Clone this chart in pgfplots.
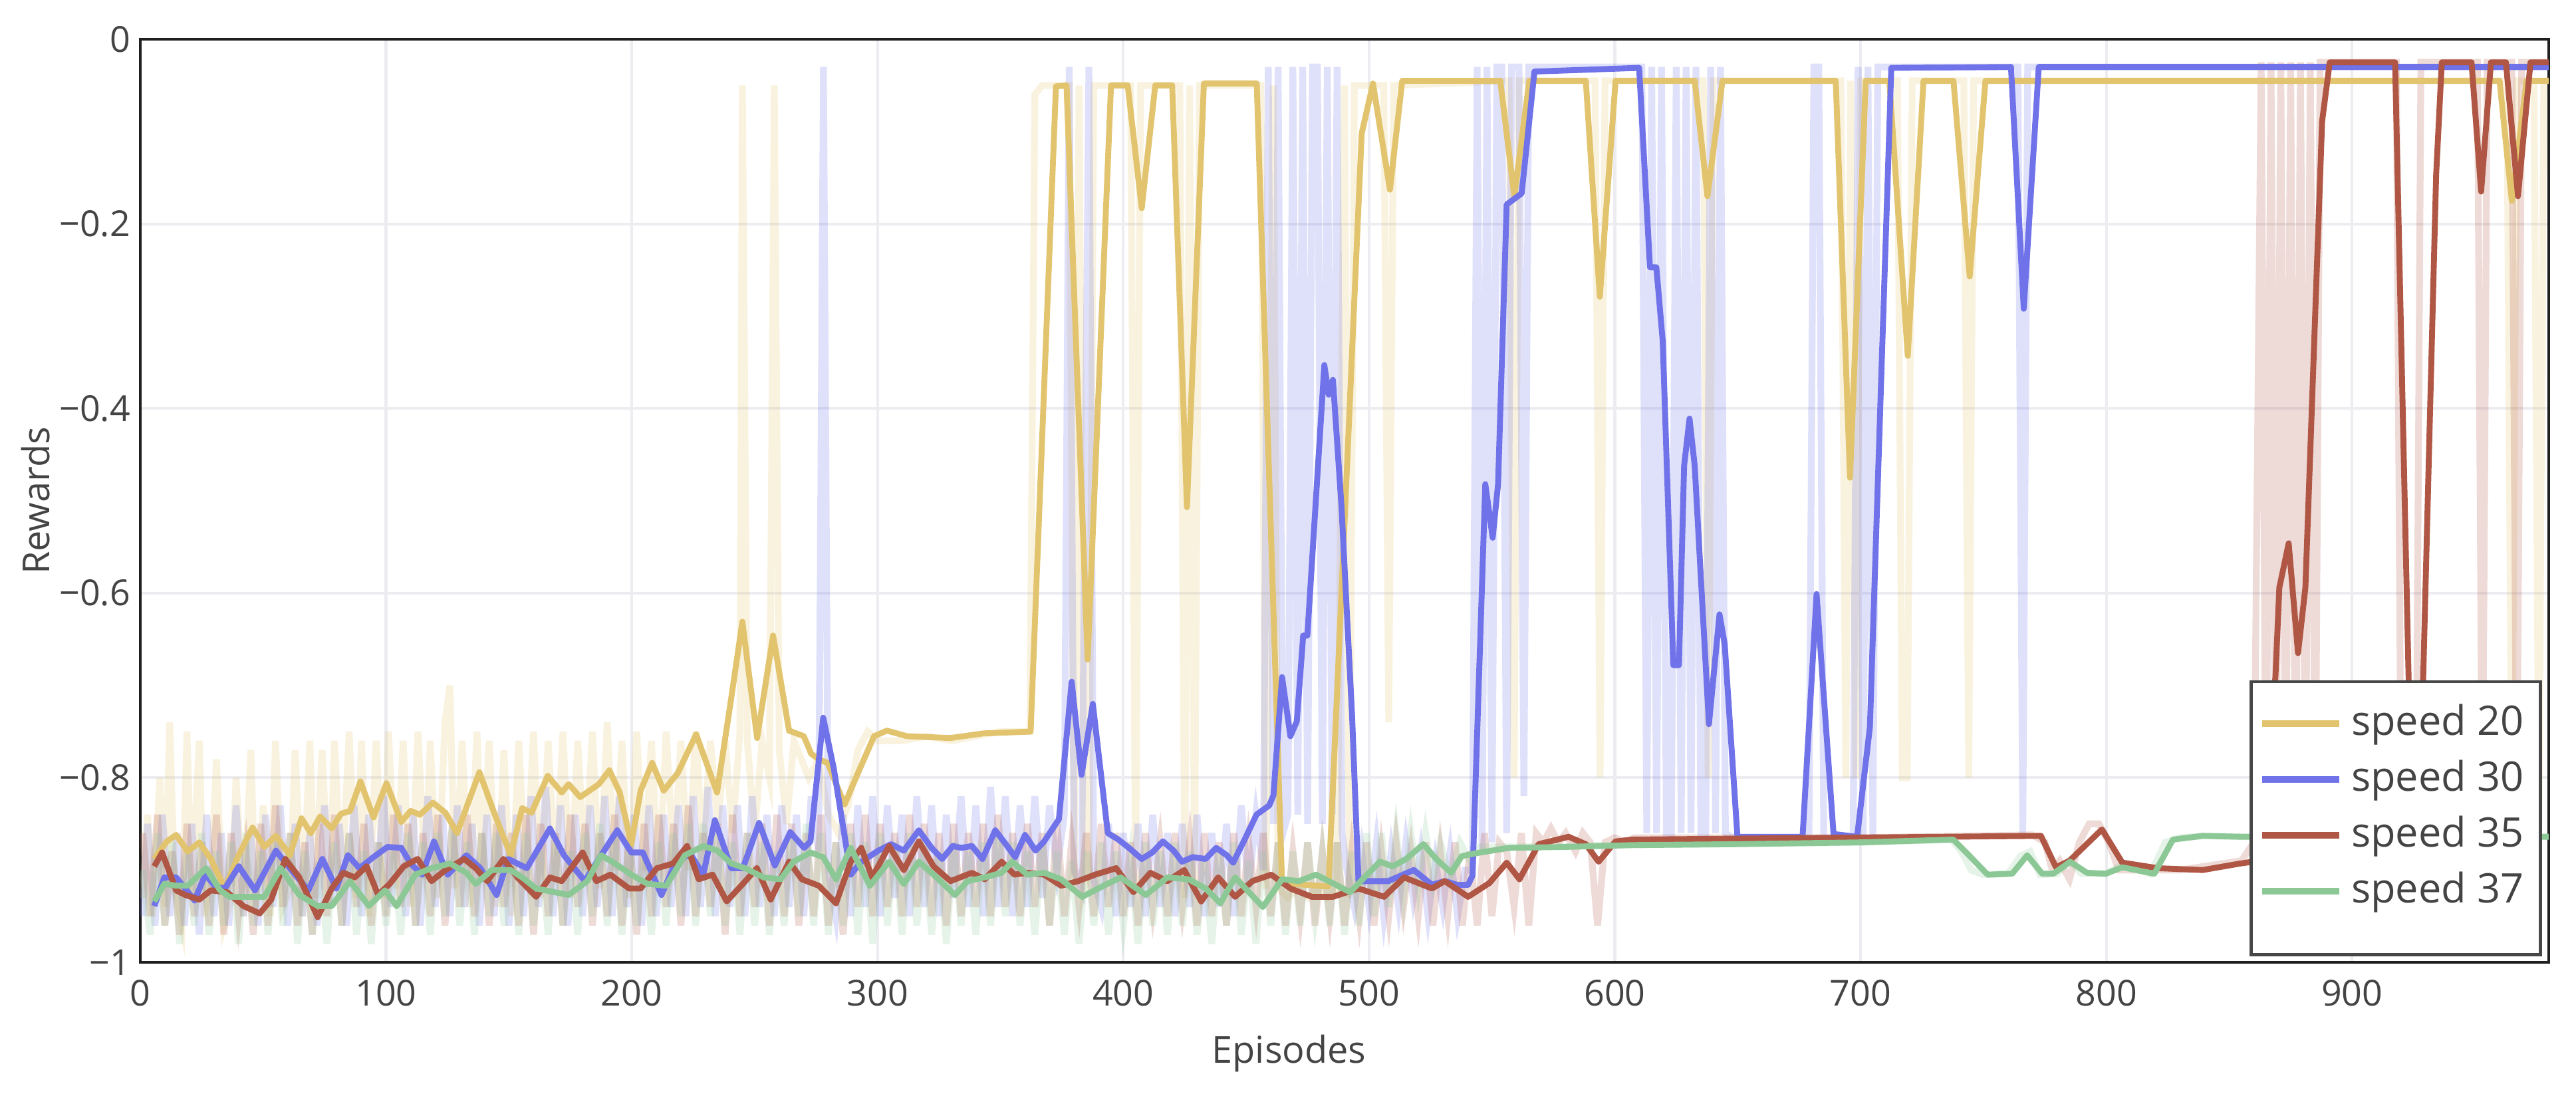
\documentclass[border=0pt]{standalone}
\usepackage{fontspec}
\setmainfont{Open Sans}
\usepackage{pgfplots}
\pgfplotsset{compat=1.18}
\definecolor{sA}{RGB}{226,196,110}
\definecolor{sB}{RGB}{111,114,232}
\definecolor{sC}{RGB}{176,86,68}
\definecolor{sD}{RGB}{140,200,150}
\definecolor{txt}{RGB}{68,68,68}
\definecolor{gridc}{RGB}{236,236,241}

\begin{document}
\begin{tikzpicture}
\begin{axis}[
  name=ax,
  scale only axis, width=18.70cm, height=7.166cm,
  xmin=0, xmax=980, ymin=-1, ymax=0,
  xtick={0,100,...,900}, xticklabels={0,100,200,300,400,500,600,700,800,900},
  ytick={-1,-0.8,-0.6,-0.4,-0.2,0}, yticklabels={−1,−0.8,−0.6,−0.4,−0.2,0},
  major tick length=0pt,
  grid=major, major grid style={gridc, line width=0.6pt},
  axis line style={black!88, line width=0.6pt},
  tick label style={font=\fontsize{7.9}{9}\selectfont, text=txt},
  xticklabel style={anchor=base, yshift=-0.34cm, inner sep=0pt},
  yticklabel style={anchor=east, xshift=-0.07cm, inner sep=0pt},
  xlabel={Episodes},
  xlabel style={font=\fontsize{8.2}{10}\selectfont, text=txt, at={(rel axis cs:0.477,0)}, anchor=base, yshift=-0.78cm, inner sep=0pt},
  legend style={at={(rel axis cs:0.9972,0.0065)}, anchor=south east, draw=black!72, line width=0.7pt, fill=white,
    font=\fontsize{9}{11}\selectfont, text=txt, inner xsep=0.06cm, inner ysep=0.108cm, row sep=0pt,
    cells={anchor=west, inner xsep=0.06cm, inner ysep=0.07cm}},
  legend image code/.code={\draw[#1, line width=1.4pt] (0cm,0cm) -- (0.6cm,0cm);},
]
% raw episode rewards (faint)
\addplot[sA, draw opacity=0.22, line width=1.5pt, forget plot] coordinates {
(1,-0.93) (3,-0.84) (5,-0.95) (8,-0.80) (10,-0.94) (12,-0.74) (14,-0.92) (17,-0.96) (19,-0.75) (21,-0.93) (24,-0.76) (26,-0.95) (29,-0.90) (31,-0.78) (34,-0.96) (37,-0.93) (39,-0.80) (42,-0.95) (45,-0.77) (47,-0.94) (50,-0.83) (53,-0.95) (55,-0.76) (58,-0.94) (61,-0.92) (63,-0.77) (66,-0.95) (69,-0.76) (71,-0.93) (74,-0.77) (77,-0.94) (79,-0.76) (82,-0.92) (85,-0.75) (88,-0.93) (90,-0.76) (93,-0.95) (96,-0.76) (99,-0.93) (101,-0.75) (104,-0.92) (107,-0.76) (110,-0.94) (113,-0.75) (116,-0.91) (118,-0.76) (121,-0.93) (124,-0.74) (126,-0.70) (128,-0.92) (131,-0.76) (134,-0.94) (137,-0.75) (139,-0.91) (142,-0.76) (145,-0.94) (148,-0.77) (151,-0.95) (154,-0.76) (157,-0.92) (160,-0.75) (163,-0.93) (166,-0.76) (169,-0.91) (172,-0.75) (175,-0.93) (178,-0.76) (181,-0.90) (184,-0.75) (187,-0.92) (190,-0.74) (193,-0.90) (196,-0.76) (199,-0.93) (202,-0.75) (205,-0.90) (208,-0.76) (211,-0.92) (214,-0.75) (217,-0.89) (220,-0.76) (223,-0.90) (226,-0.75) (229,-0.88) (232,-0.76) (235,-0.85) (238,-0.76) (241,-0.86) (244,-0.75) (245,-0.05) (247,-0.76) (250,-0.86) (253,-0.76) (256,-0.80) (258,-0.05) (260,-0.77) (263,-0.85) (266,-0.76) (269,-0.78) (272,-0.80) (276,-0.78) (280,-0.84) (284,-0.86) (288,-0.83) (292,-0.77) (296,-0.75) (300,-0.76) (310,-0.76) (320,-0.755) (330,-0.76) (340,-0.755) (350,-0.75) (362,-0.75) (364,-0.06) (367,-0.05) (378,-0.05) (380,-0.91) (382,-0.05) (384,-0.92) (386,-0.90) (388,-0.05) (403,-0.05) (405,-0.92) (407,-0.05) (423,-0.05) (425,-0.93) (427,-0.05) (429,-0.92) (431,-0.05) (456,-0.05) (458,-0.92) (461,-0.05) (463,-0.92) (467,-0.93) (471,-0.92) (475,-0.93) (479,-0.92) (483,-0.93) (487,-0.92) (490,-0.05) (492,-0.93) (494,-0.05) (506,-0.05) (508,-0.74) (510,-0.05) (557,-0.045) (559,-0.80) (561,-0.045) (592,-0.045) (594,-0.80) (596,-0.045) (636,-0.045) (638,-0.80) (640,-0.045) (692,-0.045) (694,-0.80) (696,-0.045) (698,-0.80) (700,-0.045) (715,-0.045) (717,-0.80) (719,-0.80) (721,-0.045) (742,-0.045) (744,-0.80) (746,-0.045) (963,-0.045) (965,-0.85) (967,-0.045) (974,-0.045) (976,-0.85) (978,-0.045) (980,-0.045)};
\addplot[sB, draw opacity=0.22, line width=1.5pt, forget plot] coordinates {
(1,-0.95) (3,-0.85) (6,-0.96) (9,-0.84) (12,-0.95) (15,-0.86) (18,-0.96) (21,-0.85) (24,-0.97) (27,-0.84) (30,-0.95) (33,-0.86) (36,-0.96) (39,-0.83) (42,-0.95) (45,-0.86) (48,-0.96) (51,-0.84) (54,-0.94) (57,-0.83) (60,-0.96) (63,-0.85) (66,-0.95) (69,-0.86) (72,-0.96) (75,-0.83) (78,-0.94) (81,-0.85) (84,-0.96) (87,-0.83) (90,-0.95) (93,-0.84) (96,-0.93) (99,-0.82) (102,-0.94) (105,-0.83) (108,-0.95) (111,-0.84) (114,-0.96) (117,-0.82) (120,-0.94) (123,-0.84) (126,-0.95) (129,-0.83) (132,-0.94) (135,-0.85) (138,-0.96) (141,-0.84) (144,-0.95) (147,-0.83) (150,-0.96) (153,-0.84) (156,-0.95) (159,-0.82) (162,-0.94) (165,-0.81) (168,-0.95) (171,-0.83) (174,-0.96) (177,-0.84) (180,-0.95) (183,-0.83) (186,-0.94) (189,-0.82) (192,-0.95) (195,-0.82) (198,-0.94) (201,-0.84) (204,-0.96) (207,-0.83) (210,-0.95) (213,-0.84) (216,-0.94) (219,-0.83) (222,-0.95) (225,-0.82) (228,-0.94) (231,-0.81) (234,-0.95) (237,-0.83) (240,-0.94) (243,-0.83) (246,-0.95) (249,-0.82) (252,-0.94) (255,-0.84) (258,-0.95) (261,-0.83) (264,-0.94) (267,-0.84) (270,-0.95) (273,-0.82) (276,-0.88) (278,-0.03) (280,-0.90) (283,-0.95) (286,-0.84) (289,-0.95) (292,-0.83) (295,-0.94) (298,-0.82) (301,-0.95) (304,-0.83) (307,-0.93) (310,-0.84) (313,-0.95) (316,-0.82) (319,-0.94) (322,-0.83) (325,-0.95) (328,-0.84) (331,-0.93) (334,-0.82) (337,-0.94) (340,-0.83) (343,-0.95) (346,-0.81) (349,-0.94) (352,-0.82) (355,-0.95) (358,-0.83) (361,-0.94) (364,-0.82) (367,-0.93) (370,-0.83) (373,-0.90) (376,-0.84) (378,-0.03) (380,-0.90) (383,-0.92) (386,-0.03) (388,-0.91) (391,-0.94) (394,-0.85) (397,-0.95) (400,-0.86) (403,-0.94) (406,-0.85) (409,-0.95) (412,-0.84) (415,-0.94) (418,-0.86) (421,-0.95) (424,-0.85) (427,-0.94) (430,-0.84) (433,-0.95) (436,-0.86) (439,-0.94) (442,-0.85) (445,-0.95) (448,-0.83) (451,-0.92) (454,-0.84) (457,-0.90) (459,-0.03) (461,-0.85) (463,-0.03) (465,-0.86) (467,-0.84) (469,-0.03) (471,-0.84) (473,-0.03) (475,-0.85) (477,-0.03) (479,-0.03) (481,-0.85) (483,-0.03) (485,-0.84) (487,-0.03) (489,-0.86) (491,-0.90) (494,-0.94) (497,-0.88) (500,-0.94) (503,-0.87) (506,-0.95) (509,-0.88) (512,-0.94) (515,-0.87) (518,-0.93) (521,-0.88) (524,-0.95) (527,-0.89) (530,-0.94) (533,-0.88) (536,-0.95) (539,-0.90) (542,-0.90) (544,-0.03) (546,-0.88) (548,-0.03) (550,-0.87) (552,-0.03) (554,-0.03) (556,-0.86) (558,-0.03) (561,-0.03) (563,-0.82) (565,-0.03) (611,-0.03) (613,-0.86) (615,-0.03) (617,-0.86) (619,-0.03) (621,-0.86) (623,-0.86) (625,-0.03) (627,-0.86) (629,-0.03) (631,-0.86) (633,-0.03) (635,-0.86) (637,-0.86) (639,-0.03) (641,-0.86) (643,-0.03) (645,-0.86) (648,-0.865) (679,-0.865) (681,-0.03) (683,-0.03) (685,-0.865) (697,-0.865) (699,-0.03) (701,-0.865) (703,-0.03) (705,-0.865) (707,-0.03) (764,-0.03) (766,-0.86) (768,-0.03) (980,-0.03)};
\addplot[sC, draw opacity=0.22, line width=1.5pt, forget plot] coordinates {
(1,-0.86) (4,-0.95) (7,-0.84) (10,-0.96) (13,-0.88) (16,-0.97) (19,-0.85) (22,-0.95) (25,-0.87) (28,-0.96) (31,-0.84) (34,-0.97) (37,-0.86) (40,-0.95) (43,-0.88) (46,-0.97) (49,-0.85) (52,-0.96) (55,-0.83) (58,-0.94) (61,-0.86) (64,-0.96) (67,-0.87) (70,-0.97) (73,-0.85) (76,-0.95) (79,-0.84) (82,-0.96) (85,-0.86) (88,-0.94) (91,-0.85) (94,-0.96) (97,-0.87) (100,-0.95) (103,-0.84) (106,-0.94) (109,-0.85) (112,-0.96) (115,-0.86) (118,-0.95) (121,-0.84) (124,-0.96) (127,-0.85) (130,-0.94) (133,-0.84) (136,-0.95) (139,-0.86) (142,-0.96) (145,-0.85) (148,-0.94) (151,-0.86) (154,-0.96) (157,-0.84) (160,-0.97) (163,-0.85) (166,-0.95) (169,-0.86) (172,-0.96) (175,-0.84) (178,-0.94) (181,-0.85) (184,-0.96) (187,-0.86) (190,-0.95) (193,-0.84) (196,-0.96) (199,-0.86) (202,-0.97) (205,-0.85) (208,-0.95) (211,-0.84) (214,-0.94) (217,-0.85) (220,-0.96) (223,-0.83) (226,-0.95) (229,-0.86) (232,-0.94) (235,-0.85) (238,-0.97) (241,-0.84) (244,-0.95) (247,-0.86) (250,-0.94) (253,-0.85) (256,-0.96) (259,-0.84) (262,-0.95) (265,-0.85) (268,-0.96) (271,-0.86) (274,-0.95) (277,-0.84) (280,-0.96) (283,-0.87) (286,-0.97) (289,-0.85) (292,-0.94) (295,-0.84) (298,-0.95) (301,-0.85) (304,-0.94) (307,-0.86) (310,-0.95) (313,-0.84) (316,-0.94) (319,-0.85) (322,-0.95) (325,-0.86) (328,-0.96) (331,-0.85) (334,-0.95) (337,-0.86) (340,-0.94) (343,-0.85) (346,-0.95) (349,-0.84) (352,-0.94) (355,-0.86) (358,-0.95) (361,-0.85) (364,-0.94) (367,-0.86) (370,-0.96) (373,-0.85) (376,-0.95) (379,-0.87) (382,-0.94) (385,-0.86) (388,-0.95) (391,-0.85) (394,-0.94) (397,-0.86) (400,-0.95) (403,-0.87) (406,-0.96) (409,-0.86) (412,-0.94) (415,-0.87) (418,-0.95) (421,-0.86) (424,-0.94) (427,-0.87) (430,-0.96) (433,-0.86) (436,-0.95) (439,-0.87) (442,-0.96) (445,-0.86) (448,-0.95) (451,-0.87) (454,-0.94) (457,-0.86) (460,-0.95) (463,-0.87) (466,-0.96) (469,-0.88) (472,-0.95) (475,-0.87) (478,-0.96) (481,-0.88) (484,-0.95) (487,-0.87) (490,-0.96) (493,-0.88) (496,-0.95) (499,-0.87) (502,-0.96) (505,-0.88) (508,-0.95) (511,-0.87) (514,-0.94) (517,-0.88) (520,-0.95) (523,-0.87) (526,-0.96) (529,-0.88) (532,-0.95) (535,-0.87) (538,-0.96) (541,-0.88) (544,-0.96) (547,-0.86) (550,-0.95) (553,-0.87) (556,-0.88) (559,-0.94) (562,-0.86) (565,-0.96) (568,-0.86) (571,-0.87) (574,-0.855) (577,-0.87) (580,-0.86) (584,-0.88) (587,-0.86) (590,-0.87) (593,-0.96) (596,-0.87) (600,-0.865) (604,-0.87) (608,-0.865) (700,-0.865) (770,-0.862) (775,-0.87) (778,-0.90) (781,-0.89) (785,-0.91) (789,-0.87) (793,-0.85) (797,-0.85) (801,-0.87) (805,-0.90) (810,-0.90) (830,-0.90) (855,-0.89) (860,-0.87) (863,-0.025) (865,-0.87) (867,-0.025) (869,-0.87) (871,-0.025) (873,-0.87) (875,-0.025) (877,-0.87) (879,-0.025) (881,-0.87) (883,-0.025) (885,-0.87) (887,-0.025) (918,-0.025) (920,-0.87) (922,-0.87) (924,-0.87) (926,-0.87) (928,-0.025) (951,-0.025) (953,-0.87) (955,-0.025) (965,-0.025) (967,-0.87) (969,-0.025) (980,-0.025)};
\addplot[sD, draw opacity=0.22, line width=1.5pt, forget plot] coordinates {
(1,-0.90) (4,-0.97) (7,-0.86) (10,-0.96) (13,-0.87) (16,-0.98) (19,-0.88) (22,-0.96) (25,-0.86) (28,-0.97) (31,-0.88) (34,-0.96) (37,-0.87) (40,-0.98) (43,-0.86) (46,-0.96) (49,-0.88) (52,-0.97) (55,-0.87) (58,-0.96) (61,-0.86) (64,-0.98) (67,-0.88) (70,-0.97) (73,-0.89) (76,-0.98) (79,-0.87) (82,-0.96) (85,-0.86) (88,-0.97) (91,-0.88) (94,-0.98) (97,-0.87) (100,-0.96) (103,-0.88) (106,-0.97) (109,-0.86) (112,-0.96) (115,-0.87) (118,-0.97) (121,-0.86) (124,-0.95) (127,-0.85) (130,-0.96) (133,-0.87) (136,-0.97) (139,-0.86) (142,-0.95) (145,-0.86) (148,-0.96) (151,-0.87) (154,-0.97) (157,-0.86) (160,-0.96) (163,-0.88) (166,-0.97) (169,-0.87) (172,-0.96) (175,-0.88) (178,-0.97) (181,-0.86) (184,-0.95) (187,-0.85) (190,-0.96) (193,-0.86) (196,-0.97) (199,-0.87) (202,-0.96) (205,-0.88) (208,-0.97) (211,-0.87) (214,-0.96) (217,-0.86) (220,-0.95) (223,-0.85) (226,-0.96) (229,-0.85) (232,-0.95) (235,-0.86) (238,-0.96) (241,-0.87) (244,-0.97) (247,-0.86) (250,-0.96) (253,-0.87) (256,-0.97) (259,-0.88) (262,-0.96) (265,-0.86) (268,-0.95) (271,-0.85) (274,-0.96) (277,-0.86) (280,-0.97) (283,-0.87) (286,-0.96) (289,-0.86) (292,-0.97) (295,-0.87) (298,-0.98) (301,-0.86) (304,-0.96) (307,-0.87) (310,-0.97) (313,-0.86) (316,-0.96) (319,-0.87) (322,-0.97) (325,-0.88) (328,-0.98) (331,-0.87) (334,-0.96) (337,-0.88) (340,-0.97) (343,-0.87) (346,-0.96) (349,-0.86) (352,-0.95) (355,-0.87) (358,-0.96) (361,-0.88) (364,-0.97) (367,-0.87) (370,-0.96) (373,-0.88) (376,-0.97) (379,-0.89) (382,-0.98) (385,-0.88) (388,-0.96) (391,-0.87) (394,-0.97) (397,-0.88) (400,-0.96) (403,-0.89) (406,-0.98) (409,-0.87) (412,-0.96) (415,-0.88) (418,-0.97) (421,-0.87) (424,-0.96) (427,-0.88) (430,-0.97) (433,-0.89) (436,-0.98) (439,-0.88) (442,-0.96) (445,-0.87) (448,-0.97) (451,-0.89) (454,-0.98) (457,-0.88) (460,-0.96) (463,-0.87) (466,-0.97) (469,-0.88) (472,-0.96) (475,-0.87) (478,-0.95) (481,-0.88) (484,-0.96) (487,-0.87) (490,-0.97) (493,-0.88) (496,-0.96) (499,-0.86) (502,-0.95) (505,-0.86) (508,-0.94) (511,-0.86) (514,-0.93) (517,-0.86) (520,-0.92) (523,-0.86) (526,-0.91) (529,-0.87) (533,-0.91) (537,-0.87) (541,-0.89) (545,-0.875) (560,-0.875) (600,-0.873) (700,-0.870) (737,-0.867) (741,-0.88) (745,-0.90) (750,-0.905) (760,-0.904) (765,-0.885) (769,-0.88) (773,-0.905) (780,-0.904) (785,-0.89) (790,-0.904) (800,-0.904) (806,-0.895) (818,-0.904) (824,-0.87) (830,-0.865) (840,-0.863) (860,-0.864) (980,-0.864)};
% smoothed rewards
\addplot[sA, line width=1.3pt, line join=round] coordinates {
(5.7,-0.888) (10.8,-0.869) (14.6,-0.862) (19.3,-0.880) (24.0,-0.870) (28.7,-0.888) (34.4,-0.920) (40,-0.884) (45.7,-0.854) (50.5,-0.875) (55.2,-0.863) (60.9,-0.884) (65.6,-0.844) (69.4,-0.860) (73.2,-0.842) (77.9,-0.855) (81.7,-0.839) (85.4,-0.836) (89.6,-0.804) (94.9,-0.843) (100.2,-0.806) (106.2,-0.848) (110,-0.836) (113.8,-0.840) (119.1,-0.827) (124.2,-0.838) (128.9,-0.860) (138,-0.794) (144,-0.838) (150.7,-0.884) (155.4,-0.833) (159.2,-0.838) (165.8,-0.798) (171.5,-0.816) (174.3,-0.807) (179,-0.821) (186.6,-0.807) (190.9,-0.792) (195.1,-0.816) (199.8,-0.872) (203.6,-0.814) (208.3,-0.784) (213,-0.814) (218.7,-0.795) (226.2,-0.753) (234.7,-0.816) (240.4,-0.715) (245,-0.631) (251,-0.757) (257.5,-0.646) (264,-0.749) (270,-0.755) (273,-0.774) (276,-0.78) (279.7,-0.784) (286.6,-0.829) (291.7,-0.797) (298.6,-0.755) (303.8,-0.749) (312,-0.755) (329.6,-0.757) (343,-0.752) (362.3,-0.750) (372.6,-0.051) (376.9,-0.05) (385.5,-0.672) (395,-0.05) (401.8,-0.05) (407.5,-0.183) (413,-0.05) (419.9,-0.05) (425.9,-0.507) (432.8,-0.048) (454.3,-0.048) (464.6,-0.914) (483.5,-0.918) (497,-0.102) (501.6,-0.048) (508.5,-0.163) (513.5,-0.045) (553.4,-0.045) (559.1,-0.17) (565.2,-0.045) (588.2,-0.045) (593.9,-0.279) (600.3,-0.045) (632.5,-0.045) (637.7,-0.17) (643.8,-0.045) (689.9,-0.045) (695.7,-0.475) (702.1,-0.045) (711.7,-0.045) (719.2,-0.343) (725.6,-0.045) (737.8,-0.045) (744.4,-0.257) (750.8,-0.045) (960,-0.045) (965,-0.175) (971,-0.045) (980,-0.045)};
\addlegendentry{speed 20}
\addplot[sB, line width=1.3pt, line join=round] coordinates {
(5.7,-0.939) (9.8,-0.908) (14.6,-0.908) (18.3,-0.920) (22.1,-0.933) (26.5,-0.905) (30.6,-0.918) (34.4,-0.920) (40.1,-0.896) (46.7,-0.922) (55.2,-0.879) (60.9,-0.898) (68.4,-0.922) (74.1,-0.888) (79.8,-0.920) (84.5,-0.884) (89.2,-0.898) (94.9,-0.886) (100.6,-0.875) (106.2,-0.876) (110,-0.893) (114.7,-0.905) (119.5,-0.869) (125.1,-0.905) (132.7,-0.884) (138.4,-0.898) (145,-0.927) (149.7,-0.888) (157.3,-0.898) (166.7,-0.855) (172.4,-0.884) (180.9,-0.912) (186.6,-0.888) (194.1,-0.857) (199.8,-0.881) (204.5,-0.881) (212.1,-0.927) (216.8,-0.898) (223.4,-0.881) (229.1,-0.905) (233.8,-0.846) (240.5,-0.898) (245.2,-0.898) (251.8,-0.849) (258.2,-0.895) (264.5,-0.859) (270.1,-0.876) (272.7,-0.869) (277.9,-0.735) (282.2,-0.790) (289.1,-0.905) (293.4,-0.891) (300.3,-0.879) (305.5,-0.872) (310.7,-0.879) (316.8,-0.857) (322,-0.876) (326.3,-0.888) (330.6,-0.874) (334.1,-0.876) (338.4,-0.874) (342.7,-0.888) (347.9,-0.857) (352.2,-0.872) (356,-0.886) (360,-0.862) (364.3,-0.879) (367.8,-0.869) (373.8,-0.845) (379,-0.696) (383,-0.797) (387.6,-0.72) (393.7,-0.860) (398,-0.867) (402.3,-0.876) (407.5,-0.888) (411.8,-0.881) (416.1,-0.869) (420.5,-0.879) (423.9,-0.891) (428.3,-0.886) (433.5,-0.888) (437.8,-0.876) (442.1,-0.884) (444.7,-0.892) (449,-0.869) (454.2,-0.840) (459.4,-0.830) (461.1,-0.819) (464.6,-0.691) (468,-0.755) (470.6,-0.739) (473.2,-0.646) (474.9,-0.646) (481.8,-0.353) (483.6,-0.385) (485.3,-0.369) (488.8,-0.507) (493.1,-0.733) (495.7,-0.912) (507.8,-0.912) (518.2,-0.900) (525.6,-0.916) (530.8,-0.912) (536,-0.916) (540.3,-0.916) (542.1,-0.906) (547.3,-0.482) (550.3,-0.54) (552.5,-0.482) (556,-0.179) (562.1,-0.167) (567.3,-0.035) (609.9,-0.031) (614.3,-0.247) (616.9,-0.247) (619.5,-0.327) (623.8,-0.678) (626.1,-0.678) (628.2,-0.462) (630.4,-0.411) (632.5,-0.462) (638.3,-0.742) (642.6,-0.623) (644.7,-0.655) (649.9,-0.864) (676.4,-0.864) (682.1,-0.601) (689,-0.861) (698.6,-0.864) (703.8,-0.745) (712.5,-0.031) (761.2,-0.030) (766.4,-0.292) (772.5,-0.030) (980,-0.030)};
\addlegendentry{speed 30}
\addplot[sC, line width=1.3pt, line join=round] coordinates {
(5.7,-0.896) (8.9,-0.881) (14.6,-0.922) (18.3,-0.927) (24.0,-0.932) (28.7,-0.922) (35.3,-0.924) (42.0,-0.939) (48.6,-0.947) (53.3,-0.932) (59.0,-0.888) (64.7,-0.908) (72.2,-0.951) (77.9,-0.920) (82.6,-0.903) (87.3,-0.908) (92.1,-0.896) (96.8,-0.927) (101.5,-0.915) (107.2,-0.896) (112.9,-0.888) (118.5,-0.912) (124.2,-0.900) (131.8,-0.888) (136.5,-0.898) (141.2,-0.912) (147.8,-0.888) (153.5,-0.908) (161.1,-0.929) (166.7,-0.908) (171.5,-0.912) (180,-0.881) (185.6,-0.912) (191.3,-0.905) (198.9,-0.920) (203.6,-0.920) (210.2,-0.898) (216.8,-0.893) (222.5,-0.874) (227.2,-0.910) (232.9,-0.905) (238.6,-0.934) (245.2,-0.915) (250.9,-0.898) (256.5,-0.932) (264,-0.891) (269.2,-0.910) (276.1,-0.917) (283.1,-0.936) (289.1,-0.891) (293.4,-0.876) (297.8,-0.908) (304.7,-0.874) (310.7,-0.900) (316.8,-0.869) (322.8,-0.896) (329.7,-0.912) (338.4,-0.903) (343.6,-0.910) (350.5,-0.891) (355.7,-0.905) (360.9,-0.903) (367.8,-0.905) (374.7,-0.917) (381.6,-0.912) (388.5,-0.905) (397.1,-0.898) (404.1,-0.924) (411,-0.903) (417.9,-0.912) (424.8,-0.900) (431.7,-0.934) (438.6,-0.908) (445.5,-0.929) (452.5,-0.912) (460.2,-0.905) (468,-0.920) (476.7,-0.929) (485.3,-0.929) (495.7,-0.920) (506.1,-0.929) (514.3,-0.908) (525.6,-0.920) (530.8,-0.912) (540.3,-0.929) (549,-0.914) (556,-0.892) (561.2,-0.910) (569,-0.872) (581.2,-0.864) (588.2,-0.872) (593.4,-0.891) (600.3,-0.869) (607.3,-0.867) (773.4,-0.863) (779.5,-0.897) (785,-0.89) (798.2,-0.856) (806.5,-0.892) (821,-0.898) (839.2,-0.900) (854.4,-0.893) (862,-0.89) (868.8,-0.691) (870.4,-0.594) (874.2,-0.546) (878,-0.665) (881,-0.594) (887.8,-0.089) (890.9,-0.025) (917.5,-0.025) (924.3,-0.85) (927.4,-0.85) (934.2,-0.147) (936.5,-0.025) (948.6,-0.025) (952.5,-0.165) (956.5,-0.025) (962.6,-0.025) (967.5,-0.17) (972.6,-0.025) (980,-0.025)};
\addlegendentry{speed 35}
\addplot[sD, line width=1.3pt, line join=round] coordinates {
(5.7,-0.934) (9.8,-0.915) (14.6,-0.917) (19.3,-0.917) (26.8,-0.898) (32.5,-0.922) (36.3,-0.929) (43.9,-0.929) (50.5,-0.929) (57.1,-0.898) (64.7,-0.927) (72.2,-0.939) (77.9,-0.939) (85.4,-0.912) (93,-0.939) (99.6,-0.922) (104.3,-0.939) (111.9,-0.905) (118.5,-0.898) (126.1,-0.893) (132.7,-0.903) (136.5,-0.915) (143.1,-0.900) (150.7,-0.900) (155.4,-0.908) (161.1,-0.920) (168.6,-0.924) (174.3,-0.927) (181.9,-0.912) (187.5,-0.884) (193.2,-0.893) (199.8,-0.905) (206.4,-0.915) (214,-0.917) (221.6,-0.884) (229.1,-0.874) (234.8,-0.879) (240.5,-0.893) (246.1,-0.898) (253.7,-0.908) (260.6,-0.910) (265.8,-0.891) (272.7,-0.881) (277.9,-0.886) (283.1,-0.910) (289.1,-0.876) (296.9,-0.917) (304.7,-0.891) (310.7,-0.915) (316.8,-0.891) (322.8,-0.905) (331.5,-0.927) (336.6,-0.912) (343.6,-0.908) (350.5,-0.903) (354.8,-0.891) (360.9,-0.905) (367.8,-0.903) (374.7,-0.910) (383.3,-0.929) (392,-0.917) (398.9,-0.908) (409.2,-0.927) (417.9,-0.908) (426.5,-0.910) (433.5,-0.920) (439.5,-0.936) (445.5,-0.908) (456.8,-0.940) (464.6,-0.910) (471.5,-0.912) (478.4,-0.905) (483.6,-0.912) (492.3,-0.924) (499.2,-0.905) (504.4,-0.891) (509.6,-0.896) (515.1,-0.888) (522.1,-0.872) (527.3,-0.888) (533.4,-0.903) (537.7,-0.885) (543,-0.882) (556.9,-0.876) (579.5,-0.875) (607.3,-0.873) (649,-0.872) (701.2,-0.870) (737.7,-0.867) (743,-0.881) (751.7,-0.905) (761.7,-0.904) (767.8,-0.884) (773.9,-0.904) (778.4,-0.904) (785.3,-0.891) (792.1,-0.903) (799.7,-0.904) (806.5,-0.897) (819.5,-0.904) (827.1,-0.867) (839.2,-0.863) (855.2,-0.864) (980,-0.864)};
\addlegendentry{speed 37}
\addlegendimage{empty legend}
\addlegendentry[minimum height=0.17cm, inner sep=0pt]{}
\end{axis}
\path (ax.south west) -- (ax.north west) node[midway, xshift=-0.81cm, rotate=90, font=\fontsize{8.2}{10}\selectfont, text=txt] {Rewards};
\pgfresetboundingbox
\path[use as bounding box] ([shift={(-1.089cm,-1.053cm)}]ax.south west) rectangle ([shift={(0.212cm,0.305cm)}]ax.north east);
\end{tikzpicture}
\end{document}
